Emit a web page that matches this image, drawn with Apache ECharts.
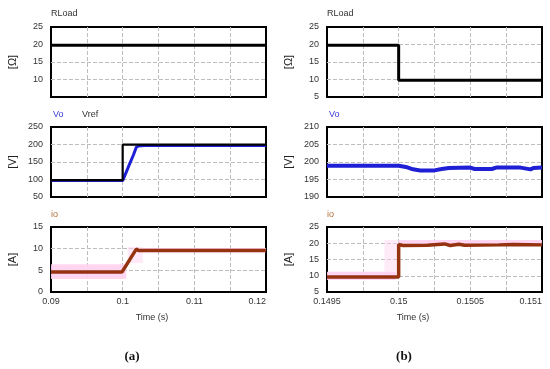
<!DOCTYPE html>
<html><head><meta charset="utf-8">
<script src="https://cdn.jsdelivr.net/npm/echarts@6/dist/echarts.min.js"></script>
<style>html,body{margin:0;padding:0;background:#fff}#c{width:550px;height:369px}</style>
</head><body><div id="c"></div>
<script>
// ---- data (a) ----
const rloadA = [[0.09,19.8],[0.12,19.8]];
const voA = [[0.09,97],[0.1,97],[0.1005,121],[0.101,146],[0.1015,170],[0.1019,192],[0.1022,196],[0.103,196.8],[0.12,196.8]];
const vrefA = [[0.09,98],[0.1,98],[0.1,199.5],[0.12,199.5]];
const ioA = [[0.09,4.6],[0.0999,4.6],[0.1019,9.9],[0.1022,9.6],[0.1045,9.6],[0.1046,9.8],[0.1047,9.6],[0.1075,9.6],[0.1076,9.8],[0.1077,9.6],[0.12,9.6]];
const bandA = [[0.09,0.1005,3.0,6.4,0.9],[0.1007,0.1028,6.7,10.4,0.5],[0.1025,0.12,9.2,10.15,0.9]];
const xTicksA = {min:0.09, max:0.12, step:0.005, labelStep:0.01};
// ---- data (b) ----
const rloadB = [[0.1495,19.8],[0.15,19.8],[0.15,9.8],[0.151,9.8]];
const voB = [[0.1495,198.9],[0.14985,198.9],[0.14986,199.3],[0.14987,198.9],[0.15,198.9],[0.15005,198.6],[0.1501,197.9],[0.15015,197.6],[0.15025,197.6],[0.1503,198.0],[0.15035,198.3],[0.1505,198.4],[0.15053,198.0],[0.15065,198.0],[0.15068,198.4],[0.15085,198.4],[0.15086,197.9],[0.15092,197.9],[0.15094,198.3],[0.151,198.4]];
const ioB = [[0.1495,9.6],[0.15,9.6],[0.15,19.6],[0.15003,19.3],[0.1502,19.4],[0.15032,19.8],[0.15036,19.3],[0.15042,19.7],[0.15046,19.4],[0.1507,19.5],[0.1508,19.6],[0.151,19.5]];
const bandB = [[0.1495,0.14998,8.7,11.2,0.9],[0.1499,0.15,10.2,21,0.45],[0.15,0.151,19.8,21,0.9]];
const xTicksB = {min:0.1495, max:0.151, step:0.00025, labelStep:0.0005};
// y axes
const yRanges = {R:[5,25,5], VA:[50,250,50], VB:[190,210,5], IA:[0,15,5], IB:[5,25,5]};

const BLUE = '#1f1fd6', BROWN = '#953210', PINK = '#ffd2f0';
const FONT = 'Liberation Sans';

const gl = [51, 327], gw = 215;
const tops = [27,127,227], hs = [70,70,65];
const grids = [], xAxes = [], yAxes = [], series = [];
const split = {show:true, showMinLine:false, showMaxLine:false, lineStyle:{color:'#bdbdbd', type:[4,2], width:1}};

function xAxis(gi, t, showLabels){
  return {type:'value', gridIndex:gi, min:t.min, max:t.max, interval:t.step,
    axisLine:{show:false}, axisTick:{show:false}, splitLine:split,
    axisLabel:{show:showLabels, color:'#333', fontSize:9, fontFamily:FONT, margin:5, alignMaxLabel:'right',
      formatter:function(v){
        const k = (v - t.min)/t.labelStep;
        if (Math.abs(k - Math.round(k)) > 1e-6) return '';
        return String(parseFloat(v.toFixed(6)));
      }}};
}
function yAxis(gi, r, name, showMin){
  return {type:'value', gridIndex:gi, min:r[0], max:r[1], interval:r[2],
    axisLine:{show:false}, axisTick:{show:false}, splitLine:split,
    axisLabel:{color:'#333', fontSize:9, fontFamily:FONT, margin:8, showMinLabel:showMin},
    name:name, nameLocation:'middle', nameRotate:90, nameGap:33,
    nameTextStyle:{color:'#222', fontSize:11, fontFamily:FONT}};
}
const yDefs = [
  [yRanges.R,'[Ω]',false],[yRanges.VA,'[V]',true],[yRanges.IA,'[A]',true],
  [yRanges.R,'[Ω]',true],[yRanges.VB,'[V]',true],[yRanges.IB,'[A]',true]];
for (let c=0;c<2;c++){
  for (let r=0;r<3;r++){
    const gi = c*3+r;
    grids.push({left:gl[c], top:tops[r], width:gw, height:hs[r], show:true, borderColor:'#000', borderWidth:2, backgroundColor:'transparent'});
    xAxes.push(xAxis(gi, c===0?xTicksA:xTicksB, r===2));
    yAxes.push(yAxis(gi, yDefs[gi][0], yDefs[gi][1], yDefs[gi][2]));
  }
}
function line(gi, data, color, w, z){
  return {type:'line', xAxisIndex:gi, yAxisIndex:gi, data:data, showSymbol:false, symbol:'none',
    lineStyle:{color:color, width:w}, z:z, animation:false, clip:true};
}
function bands(gi, data){
  return {type:'custom', xAxisIndex:gi, yAxisIndex:gi, data:data, z:1, clip:true, animation:false,
    encode:{x:[0,1], y:[2,3]},
    renderItem:function(params, api){
      const p0 = api.coord([api.value(0), api.value(3)]);
      const p1 = api.coord([api.value(1), api.value(2)]);
      return {type:'rect', shape:{x:p0[0], y:p0[1], width:p1[0]-p0[0], height:p1[1]-p0[1]},
        style:{fill:PINK, opacity:api.value(4)}};
    }};
}
series.push(line(0, rloadA, '#000', 3, 3));
series.push(line(1, voA, BLUE, 3, 3));
series.push(line(1, vrefA, '#000', 2.2, 4));
series.push(bands(2, bandA));
series.push(line(2, ioA, BROWN, 3.5, 3));
series.push(line(3, rloadB, '#000', 3, 3));
series.push(line(4, voB, BLUE, 4, 3));
series.push(bands(5, bandB));
series.push(line(5, ioB, BROWN, 3.5, 3));

function txt(x,y,s,color,extra){
  return Object.assign({type:'text', x:x, y:y, style:{text:s, fill:color||'#333', font:'9px "Liberation Sans"', textVerticalAlign:'middle'}, z:10}, extra||{});
}
const graphic = [
  txt(51,14,'RLoad','#333'), txt(53,115,'Vo','#3a3ad8'), txt(82,115,'Vref','#333'), txt(51,215,'io','#b07038'),
  txt(327,14,'RLoad','#333'), txt(329,115,'Vo','#3a3ad8'), txt(327,215,'io','#b07038'),
  {type:'text', x:152, y:318, style:{text:'Time (s)', fill:'#333', font:'9px "Liberation Sans"', textAlign:'center', textVerticalAlign:'middle'}},
  {type:'text', x:413, y:318, style:{text:'Time (s)', fill:'#333', font:'9px "Liberation Sans"', textAlign:'center', textVerticalAlign:'middle'}},
  {type:'text', x:132, y:357, style:{text:'(a)', fill:'#111', font:'bold 13px "Liberation Serif"', textAlign:'center', textVerticalAlign:'middle'}},
  {type:'text', x:404, y:357, style:{text:'(b)', fill:'#111', font:'bold 13px "Liberation Serif"', textAlign:'center', textVerticalAlign:'middle'}}
];

const chart = echarts.init(document.getElementById('c'), null, {renderer:'canvas'});
chart.setOption({animation:false, backgroundColor:'#fff', grid:grids, xAxis:xAxes, yAxis:yAxes, series:series, graphic:graphic});
</script></body></html>
